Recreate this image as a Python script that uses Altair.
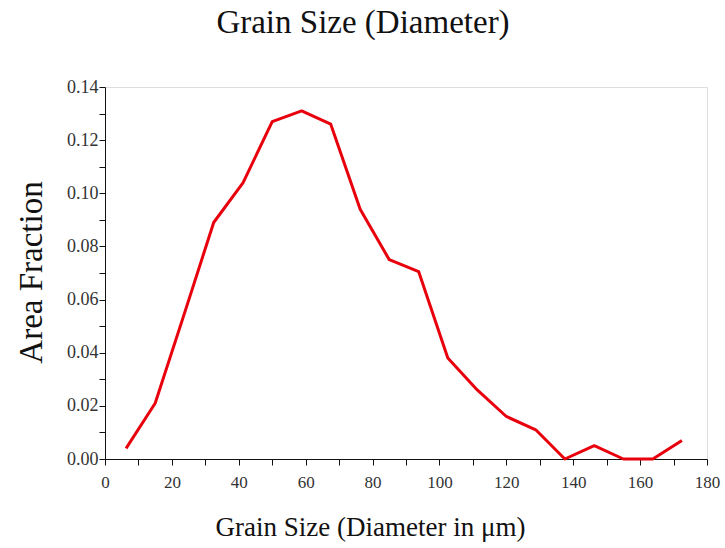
import altair as alt
import pandas as pd

# Grain-size distribution: bin centres (diameter, µm) and area fraction
diameter = [6.3, 15.0, 23.8, 32.5, 41.3, 50.0, 58.8, 67.5, 76.3, 85.0,
            93.8, 102.5, 111.3, 120.0, 128.8, 137.5, 146.3, 155.0, 163.8, 172.5]
area_fraction = [0.004, 0.021, 0.055, 0.089, 0.104, 0.127, 0.131, 0.126, 0.094, 0.075,
                 0.0705, 0.038, 0.026, 0.016, 0.011, 0.0, 0.005, 0.0, 0.0, 0.007]

x_ticks = list(range(0, 181, 10))
y_ticks = [round(i * 0.01, 2) for i in range(0, 15)]

df = pd.DataFrame({"diameter": diameter, "fraction": area_fraction})

SERIF = "Liberation Serif"

chart = alt.Chart(df).mark_line(color="#e8000c", strokeWidth=3, strokeJoin="round").encode(
    x=alt.X(
        "diameter:Q",
        scale=alt.Scale(domain=[0, 180], nice=False, zero=False),
        axis=alt.Axis(
            values=x_ticks,
            labelExpr="datum.value % 20 == 0 ? datum.label : ''",
            grid=False,
            title="Grain Size (Diameter in μm)",
            titleFont=SERIF, titleFontSize=27, titleFontWeight="normal", titleColor="#111",
            titleX=265, titleY=76, titleBaseline="alphabetic", titleAlign="center",
            labelFont=SERIF, labelFontSize=17, labelColor="#333", labelPadding=9,
            labelFlush=False, labelOverlap=False,
            domainColor="#111", tickColor="#111", tickSize=6,
        ),
    ),
    y=alt.Y(
        "fraction:Q",
        scale=alt.Scale(domain=[0, 0.14], nice=False, zero=True),
        axis=alt.Axis(
            values=y_ticks,
            format=".2f",
            labelExpr="round(datum.value * 100) % 2 == 0 ? datum.label : ''",
            grid=False,
            title="Area Fraction",
            titleFont=SERIF, titleFontSize=33, titleFontWeight="normal", titleColor="#111",
            titleX=-64, titleY=185, titleBaseline="alphabetic", titleAlign="center",
            labelFont=SERIF, labelFontSize=18, labelColor="#333", labelPadding=1,
            labelFlush=False, labelOverlap=False,
            domainColor="#111", tickColor="#111", tickSize=6,
        ),
    ),
).properties(
    width=602,
    height=372,
    title=alt.TitleParams(
        "Grain Size (Diameter)",
        font=SERIF, fontSize=33, fontWeight="normal", color="#111",
        anchor="middle", dx=-43, offset=38,
    ),
    autosize=alt.AutoSizeParams(type="none"),
    padding={"left": 105, "top": 87, "right": 18, "bottom": 89},
).configure_view(stroke=None).configure(background="white")

chart.save("out.html", embed_options={"renderer": "svg", "actions": False})
